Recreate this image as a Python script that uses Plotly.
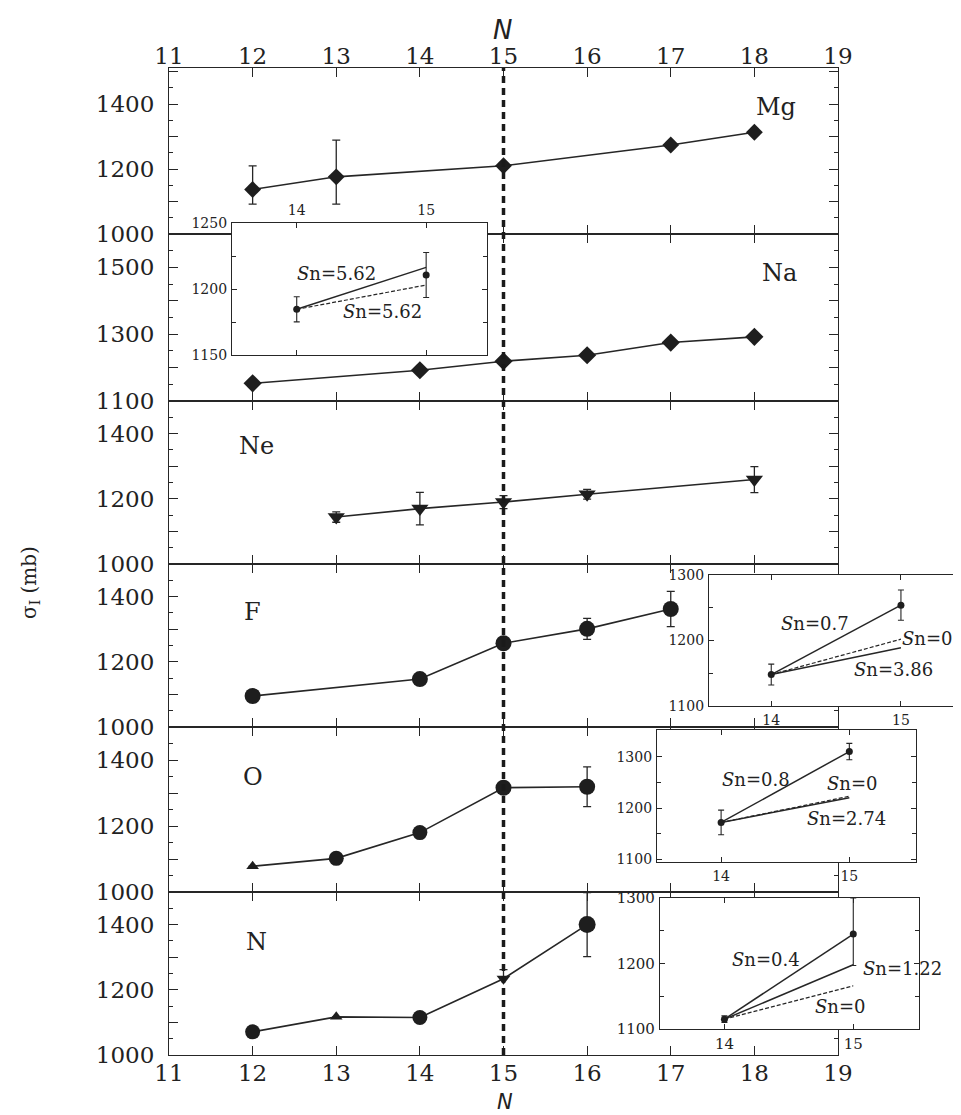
import plotly.graph_objects as go

# page offset (browser body margin) compensation
OFF = 8
W, H = 961 - OFF, 1115 - OFF
SERIF = "DejaVu Serif"
LC = "#262626"
TC = "#222222"

# ---------------- data ----------------
N_ticks = [11, 12, 13, 14, 15, 16, 17, 18, 19]

mg_N = [12, 13, 15, 17, 18]
mg_sigma = [1137, 1176, 1210, 1274, 1313]
mg_err_up = [73, 113, 0, 0, 0]
mg_err_dn = [45, 84, 0, 0, 0]

na_N = [12, 14, 15, 16, 17, 18]
na_sigma = [1153, 1192, 1219, 1237, 1275, 1292]

ne_N = [13, 14, 15, 16, 18]
ne_sigma = [1144, 1170, 1190, 1214, 1259]
ne_err = [16, 50, 20, 15, 40]

f_N = [12, 14, 15, 16, 17]
f_sigma = [1095, 1147, 1257, 1301, 1362]
f_err = [0, 0, 0, 32, 54]

o_N = [12, 13, 14, 15, 16]
o_sigma = [1078, 1102, 1180, 1316, 1319]
o_err = [0, 0, 0, 0, 60]

n_N = [12, 13, 14, 15, 16]
n_sigma = [1071, 1117, 1115, 1234, 1400]
n_err_up = [0, 0, 0, 28, 98]
n_err_dn = [0, 0, 0, 0, 98]

elements = ["Mg", "Na", "Ne", "F", "O", "N"]

# insets (N = 14 -> 15)
in_N = [14, 15]

na_in_sigma = [1184.6, 1210.6]
na_in_err = [9.5, 17]
na_in_sn562_solid = [1184.6, 1216.4]
na_in_sn562_dash = [1184.6, 1203]

f_in_sigma = [1148, 1254]
f_in_err = [16, 23]
f_in_sn07 = [1148, 1254]
f_in_sn0 = [1148, 1202]
f_in_sn386 = [1148, 1189]

o_in_sigma = [1172, 1310]
o_in_err = [24, 16]
o_in_sn08 = [1172, 1310]
o_in_sn0 = [1172, 1223]
o_in_sn274 = [1172, 1220]

n_in_sigma = [1115, 1245]
n_in_err_up = [5, 55]
n_in_err_dn = [5, 48]
n_in_sn04 = [1115, 1245]
n_in_sn122 = [1115, 1198]
n_in_sn0 = [1115, 1166]

# ---------------- helpers ----------------
def fx(px):
    return (px - OFF) / W

def fy(py):
    return 1 - (py - OFF) / H

fig = go.Figure()

XL, XR = 169, 838
bounds = [68, 234, 401, 564, 727, 892, 1055]
yranges = [[1000, 1511], [1100, 1600], [1000, 1500], [1000, 1500], [1000, 1500], [1000, 1500]]

layout = dict(
    width=W, height=H, margin=dict(l=0, r=0, t=0, b=0, autoexpand=False),
    paper_bgcolor="white", plot_bgcolor="white", showlegend=False,
)

for i in range(6):
    k = i + 1
    top, bot = bounds[i], bounds[i + 1]
    side = "top" if i == 0 else "bottom"
    show_x = (i == 0) or (i == 5)
    layout[f"xaxis{k}"] = dict(
        domain=[fx(XL), fx(XR)], range=[11, 19], anchor=f"y{k}", side=side,
        automargin=False,
        showline=True, mirror="ticks", linecolor=LC, linewidth=1.2,
        ticks="inside", ticklen=9, tickwidth=1.2, tickcolor=LC,
        tickmode="array", tickvals=N_ticks, ticktext=[str(v) for v in N_ticks],
        showticklabels=show_x, showgrid=False, zeroline=False,
        ticklabelstandoff=-6 if i == 0 else -3,
        tickfont=dict(family=SERIF, size=23, color=TC),
    )
    lo, hi = yranges[i]
    major = list(range(lo, hi + 1, 100))
    text = [str(v) if (v - lo) % 200 == 0 and v < hi - 60 else " " for v in major]
    minor = [v + 50 for v in range(lo, hi, 100)]
    layout[f"yaxis{k}"] = dict(
        domain=[fy(bot), fy(top)], range=[lo, hi], anchor=f"x{k}",
        automargin=False,
        showline=True, mirror="ticks", linecolor=LC, linewidth=1.2,
        ticks="inside", ticklen=9, tickwidth=1.2, tickcolor=LC,
        tickmode="array", tickvals=major, ticktext=text,
        minor=dict(tickmode="array", tickvals=minor, ticklen=4, ticks="inside", tickcolor=LC, tickwidth=1.0),
        showgrid=False, zeroline=False, ticklabelstandoff=9,
        tickfont=dict(family=SERIF, size=23, color=TC),
    )

# inset axes
insets = [
    (7, [232, 487], [223, 355], [13.5, 15.47], [1150, 1250], "top", [1150, 1200, 1250], [1175, 1225], 14),
    (8, [709, 958], [575, 706], [13.52, 15.44], [1100, 1300], "bottom", [1100, 1200, 1300], [1150, 1250], 14),
    (9, [657, 916], [730, 862], [13.5, 15.52], [1095, 1352], "bottom", [1100, 1200, 1300], [1150, 1250], 14),
    (10, [660, 919], [898, 1029], [13.5, 15.51], [1100, 1300], "bottom", [1100, 1200, 1300], [1150, 1250], 15),
]
for k, xp, yp, xr, yr, xside, yt, ym, fs in insets:
    layout[f"xaxis{k}"] = dict(
        domain=[fx(xp[0]), fx(xp[1])], range=xr, anchor=f"y{k}", side=xside,
        automargin=False,
        showline=True, mirror="ticks", linecolor=LC, linewidth=1.2,
        ticks="inside", ticklen=5, tickwidth=1.0, tickcolor=LC,
        tickmode="array", tickvals=in_N, ticktext=[str(v) for v in in_N],
        showgrid=False, zeroline=False, ticklabelstandoff=1,
        tickfont=dict(family=SERIF, size=fs, color=TC),
    )
    layout[f"yaxis{k}"] = dict(
        domain=[fy(yp[1]), fy(yp[0])], range=yr, anchor=f"x{k}",
        automargin=False,
        showline=True, mirror="ticks", linecolor=LC, linewidth=1.2,
        ticks="inside", ticklen=5, tickwidth=1.0, tickcolor=LC,
        tickmode="array", tickvals=yt, ticktext=[str(v) for v in yt],
        minor=dict(tickmode="array", tickvals=ym, ticklen=4, ticks="inside", tickcolor=LC),
        showgrid=False, zeroline=False, ticklabelstandoff=1,
        tickfont=dict(family=SERIF, size=fs, color=TC),
    )

fig.update_layout(**layout)

# ---------------- main traces ----------------
def err(up, dn=None):
    return dict(type="data", symmetric=dn is None, array=up,
                arrayminus=dn if dn is not None else None,
                thickness=1.3, width=4, color=LC)

def main_trace(k, xs, ys, symbols, size, e=None):
    fig.add_trace(go.Scatter(
        x=xs, y=ys, xaxis=f"x{k}", yaxis=f"y{k}", mode="lines+markers",
        line=dict(color=LC, width=1.6),
        marker=dict(symbol=symbols, size=size, color="#1e1e1e", opacity=1,
                    line=dict(width=0)),
        error_y=e, hoverinfo="skip",
    ))

main_trace(1, mg_N, mg_sigma, "diamond", 13, err(mg_err_up, mg_err_dn))
main_trace(2, na_N, na_sigma, "diamond", 14)
main_trace(3, ne_N, ne_sigma, "triangle-down", 15, err(ne_err))
main_trace(4, f_N, f_sigma, "circle", 16, err(f_err))
main_trace(5, o_N, o_sigma, ["triangle-up", "circle", "circle", "circle", "circle"], [11, 15, 15, 16, 16], err(o_err))
main_trace(6, n_N, n_sigma, ["circle", "triangle-up", "circle", "triangle-down", "circle"], [15, 11, 15, 12, 17], err(n_err_up, n_err_dn))

# ---------------- inset traces ----------------
def line_tr(k, ys, dash=None):
    fig.add_trace(go.Scatter(
        x=in_N, y=ys, xaxis=f"x{k}", yaxis=f"y{k}", mode="lines",
        line=dict(color=LC, width=1.5 if dash is None else 1.2, dash=dash or "solid"),
        hoverinfo="skip",
    ))

def pts_tr(k, ys, up, dn=None):
    fig.add_trace(go.Scatter(
        x=in_N, y=ys, xaxis=f"x{k}", yaxis=f"y{k}", mode="markers",
        marker=dict(symbol="circle", size=7, color="#1e1e1e", opacity=1),
        error_y=dict(type="data", symmetric=dn is None, array=up,
                     arrayminus=dn if dn is not None else None,
                     thickness=1.1, width=3, color=LC),
        hoverinfo="skip",
    ))

DASH = "4px,2px"
line_tr(7, na_in_sn562_solid)
line_tr(7, na_in_sn562_dash, DASH)
pts_tr(7, na_in_sigma, na_in_err)

line_tr(8, f_in_sn07)
line_tr(8, f_in_sn386)
line_tr(8, f_in_sn0, DASH)
pts_tr(8, f_in_sigma, f_in_err)

line_tr(9, o_in_sn08)
line_tr(9, o_in_sn274)
line_tr(9, o_in_sn0, DASH)
pts_tr(9, o_in_sigma, o_in_err)

line_tr(10, n_in_sn04)
line_tr(10, n_in_sn122)
line_tr(10, n_in_sn0, DASH)
pts_tr(10, n_in_sigma, n_in_err_up, n_in_err_dn)

# ---------------- shapes ----------------
fig.add_shape(type="line", xref="x", yref="paper", x0=15, x1=15,
              y0=fy(bounds[-1]), y1=fy(bounds[0]),
              line=dict(color="#1a1a1a", width=3.5, dash="7px,5px"), layer="above")

# ---------------- annotations ----------------
ann = []
label_pos = [(18.26, 1390), (18.3, 1482), (12.05, 1363), (12.0, 1352), (12.0, 1349), (12.05, 1346)]
for i, (el, (x, y)) in enumerate(zip(elements, label_pos)):
    ann.append(dict(x=x, y=y, xref=f"x{i+1}", yref=f"y{i+1}", text=el, showarrow=False,
                    xanchor="center", yanchor="middle",
                    font=dict(family=SERIF, size=24, color=TC)))

sn_labels = [
    (7, 14.31, 1212, "5.62"), (7, 14.66, 1183, "5.62"),
    (8, 14.34, 1226, "0.7"), (8, 15.2, 1203.5, "0"), (8, 14.94, 1155.6, "3.86"),
    (9, 14.27, 1256, "0.8"), (9, 15.02, 1248, "0"), (9, 14.98, 1179, "2.74"),
    (10, 14.32, 1206, "0.4"), (10, 15.38, 1193, "1.22"), (10, 14.9, 1134, "0"),
]
for k, x, y, v in sn_labels:
    ann.append(dict(x=x, y=y, xref=f"x{k}", yref=f"y{k}", text=f"<i>S</i>n={v}", showarrow=False,
                    xanchor="center", yanchor="middle",
                    font=dict(family=SERIF, size=18, color=TC)))

ann.append(dict(x=fx(503), y=fy(30), xref="paper", yref="paper", text="<i>N</i>", showarrow=False,
                xanchor="center", yanchor="middle",
                font=dict(family="DejaVu Sans", size=26, color=TC)))
ann.append(dict(x=fx(505), y=fy(1102), xref="paper", yref="paper", text="<i>N</i>", showarrow=False,
                xanchor="center", yanchor="middle", borderpad=0,
                font=dict(family="DejaVu Sans", size=21, color=TC)))
ann.append(dict(x=fx(30), y=fy(583), xref="paper", yref="paper", text="σ<sub>I</sub> (mb)",
                textangle=-90, showarrow=False, xanchor="center", yanchor="middle",
                font=dict(family=SERIF, size=20, color=TC)))

fig.update_layout(annotations=ann)

fig.write_html("out.html")
